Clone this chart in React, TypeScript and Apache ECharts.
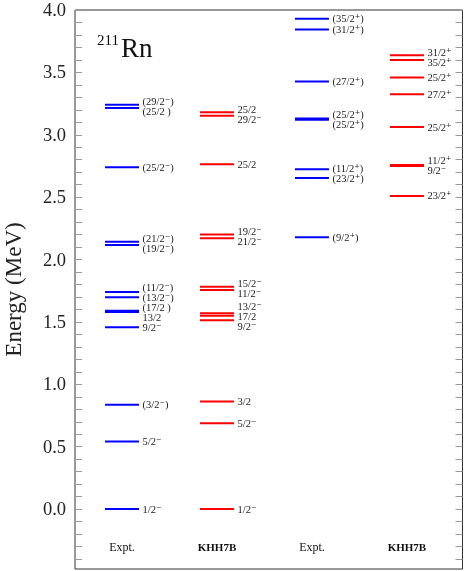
import React, { useEffect, useRef } from "react";
import * as echarts from "echarts";

// ---- data ----
const columnNames = ["Expt.", "KHH7B", "Expt.", "KHH7B"];

const exptNegEnergies = [0.0, 0.542, 0.837, 1.458, 1.58, 1.59, 1.697, 1.74, 2.117, 2.143, 2.739, 3.215, 3.24];
const exptNegLabels = ["1/2⁻", "5/2⁻", "(3/2⁻)", "9/2⁻", "13/2", "(17/2 )", "(13/2⁻)", "(11/2⁻)", "(19/2⁻)", "(21/2⁻)", "(25/2⁻)", "(25/2 )", "(29/2⁻)"];

const khhNegEnergies = [0.0, 0.688, 0.863, 1.514, 1.55, 1.57, 1.755, 1.782, 2.17, 2.2, 2.763, 3.153, 3.18];
const khhNegLabels = ["1/2⁻", "5/2⁻", "3/2", "9/2⁻", "17/2", "13/2⁻", "11/2⁻", "15/2⁻", "21/2⁻", "19/2⁻", "25/2", "29/2⁻", "25/2"];

const exptPosEnergies = [2.178, 2.653, 2.723, 3.12, 3.13, 3.426, 3.843, 3.93];
const exptPosLabels = ["(9/2⁺)", "(23/2⁺)", "(11/2⁺)", "(25/2⁺)", "(25/2⁺)", "(27/2⁺)", "(31/2⁺)", "(35/2⁺)"];

const khhPosEnergies = [2.51, 2.75, 2.757, 3.062, 3.325, 3.46, 3.599, 3.638];
const khhPosLabels = ["23/2⁺", "9/2⁻", "11/2⁺", "25/2⁺", "27/2⁺", "25/2⁺", "35/2⁺", "31/2⁺"];

const yTickLabels = [0.0, 0.5, 1.0, 1.5, 2.0, 2.5, 3.0, 3.5, 4.0];

const BLUE = "#0000ff";
const RED = "#ff0000";
const FONT = '"Liberation Serif", "DejaVu Serif", serif';

const Y_MIN = -0.48;
const Y_MAX = 4.0;
const GRID_TOP = 10;
const GRID_BOTTOM = 2;
const HEIGHT = 571;
const WIDTH = 464;
const HALF_W = 0.179;

// spread labels so that they do not overlap (grouping method)
function spreadLabels(energies: number[], gap: number): number[] {
  const order = energies.map((e, i) => i).sort((a, b) => energies[a] - energies[b]);
  type G = { idx: number[]; mean: number };
  const groups: G[] = [];
  for (const i of order) {
    groups.push({ idx: [i], mean: energies[i] });
    while (groups.length > 1) {
      const b = groups[groups.length - 1];
      const a = groups[groups.length - 2];
      const aTop = a.mean + ((a.idx.length - 1) / 2) * gap;
      const bBot = b.mean - ((b.idx.length - 1) / 2) * gap;
      if (bBot - aTop < gap - 1e-9) {
        const all = a.idx.concat(b.idx);
        const mean = all.reduce((s, k) => s + energies[k], 0) / all.length;
        groups.splice(groups.length - 2, 2, { idx: all, mean });
      } else break;
    }
  }
  const out = new Array(energies.length).fill(0);
  for (const g of groups) {
    g.idx.forEach((k, j) => {
      out[k] = g.mean + (j - (g.idx.length - 1) / 2) * gap;
    });
  }
  return out;
}

export default function App() {
  const ref = useRef<HTMLDivElement>(null);
  useEffect(() => {
    if (!ref.current) return;
    const chart = echarts.init(ref.current, null, { renderer: "svg" });
    const pxPerMeV = (HEIGHT - GRID_TOP - GRID_BOTTOM) / (Y_MAX - Y_MIN);
    const gap = 10 / pxPerMeV;

    const cols = [
      { e: exptNegEnergies, l: exptNegLabels, c: BLUE },
      { e: khhNegEnergies, l: khhNegLabels, c: RED },
      { e: exptPosEnergies, l: exptPosLabels, c: BLUE },
      { e: khhPosEnergies, l: khhPosLabels, c: RED },
    ];
    const items: { x: number; e: number; le: number; text: string; color: string }[] = [];
    cols.forEach((col, ci) => {
      const le = spreadLabels(col.e, gap);
      col.e.forEach((e, i) => items.push({ x: ci + 1, e, le: le[i], text: col.l[i], color: col.c }));
    });

    const minorTicks: number[] = [];
    for (let i = -4; i <= 40; i++) minorTicks.push(Math.round(i) / 10);

    const axisCommon = {
      type: "value" as const,
      min: Y_MIN,
      max: Y_MAX,
      axisLine: { show: false },
      splitLine: { show: false },
    };

    chart.setOption({
      animation: false,
      grid: {
        left: 75,
        right: 1.5,
        top: GRID_TOP,
        bottom: GRID_BOTTOM,
        containLabel: false,
        outerBoundsMode: "none",
        show: true,
        borderColor: "#333",
        borderWidth: 1,
      },
      xAxis: { type: "value", min: 0.505, max: 4.585, show: false },
      yAxis: [
        {
          ...axisCommon,
          position: "left",
          axisTick: { show: true, inside: true, length: 7, customValues: minorTicks, lineStyle: { color: "#999" } },
          axisLabel: {
            customValues: yTickLabels,
            formatter: (v: number) => v.toFixed(1),
            fontSize: 18.5,
            lineHeight: 16,
            fontFamily: FONT,
            color: "#222",
            margin: 9,
          },
          name: "Energy (MeV)",
          nameLocation: "middle",
          nameGap: 50,
          nameTextStyle: { fontSize: 23, fontFamily: FONT, color: "#222" },
        },
        {
          ...axisCommon,
          position: "right",
          axisTick: { show: true, inside: true, length: 7, customValues: minorTicks, lineStyle: { color: "#999" } },
          axisLabel: { show: false },
        },
      ],
      graphic: [
        { type: "text", left: 97, top: 32, style: { text: "211", fontSize: 15, fontFamily: FONT, fill: "#111" } },
        { type: "text", left: 121, top: 34, style: { text: "Rn", fontSize: 27, fontFamily: FONT, fill: "#111" } },
      ],
      series: [
        {
          type: "custom",
          clip: false,
          data: items.map((d) => [d.x, d.e, d.le]),
          renderItem: (params: any, api: any) => {
            const d = items[params.dataIndex];
            const x = api.value(0);
            const e = api.value(1);
            const le = api.value(2);
            const p1 = api.coord([x - HALF_W, e]);
            const p2 = api.coord([x + HALF_W, e]);
            const pl = api.coord([x + HALF_W, le]);
            return {
              type: "group",
              children: [
                {
                  type: "line",
                  shape: { x1: p1[0], y1: p1[1], x2: p2[0], y2: p2[1] },
                  style: { stroke: d.color, lineWidth: 2 },
                },
                {
                  type: "text",
                  x: pl[0] + 3.5,
                  y: pl[1],
                  style: {
                    text: d.text,
                    fontSize: 10.5,
                    lineHeight: 10,
                    fontFamily: FONT,
                    fill: "#222",
                    align: "left",
                    verticalAlign: "middle",
                  },
                },
              ],
            };
          },
        },
        {
          type: "custom",
          clip: false,
          data: columnNames.map((n, i) => [i + 1, -0.3]),
          renderItem: (params: any, api: any) => {
            const p = api.coord([api.value(0), api.value(1)]);
            const name = columnNames[params.dataIndex];
            const bold = name !== "Expt.";
            return {
              type: "text",
              x: p[0],
              y: p[1],
              style: {
                text: name,
                fontSize: bold ? 11 : 12,
                fontWeight: bold ? "bold" : "normal",
                fontFamily: FONT,
                fill: "#111",
                align: "center",
                verticalAlign: "middle",
              },
            };
          },
        },
      ],
    });
    return () => chart.dispose();
  }, []);
  return (
    <div
      ref={ref}
      style={{ position: "fixed", left: 0, top: 0, width: WIDTH, height: HEIGHT }}
    />
  );
}
